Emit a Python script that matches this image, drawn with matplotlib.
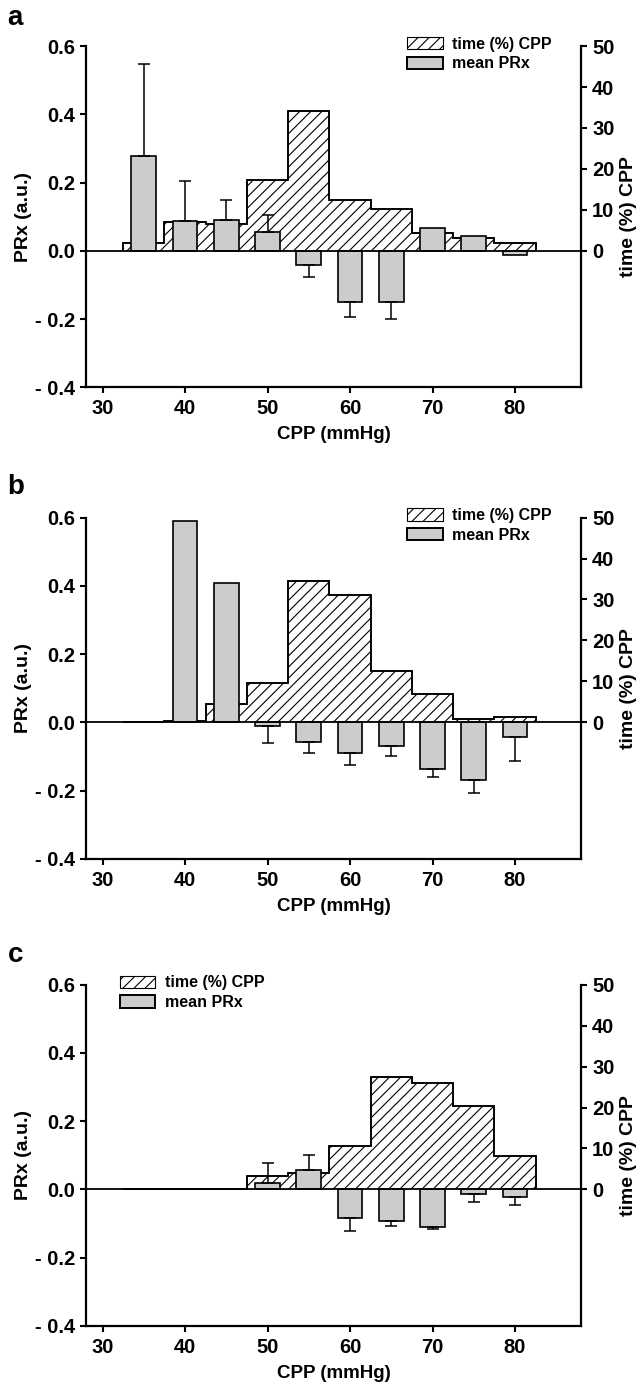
import numpy as np
import matplotlib
matplotlib.use("Agg")
import matplotlib.pyplot as plt
from matplotlib.patches import Patch

plt.rcParams['font.family'] = ['Liberation Sans', 'DejaVu Sans']
plt.rcParams['font.weight'] = 'bold'
plt.rcParams['axes.labelweight'] = 'bold'
plt.rcParams['hatch.linewidth'] = 0.8

# CPP bins (mmHg), 5 mmHg wide
cpp = np.array([35, 40, 45, 50, 55, 60, 65, 70, 75, 80])
edges = np.arange(32.5, 83, 5)

# panel a
time_a = [2.0, 7.1, 6.6, 17.4, 34.1, 12.5, 10.1, 4.3, 3.1, 2.0]
prx_a = [0.278, 0.087, 0.090, 0.054, -0.043, -0.149, -0.149, 0.067, 0.042, -0.012]
err_a = [0.270, 0.118, 0.058, 0.050, 0.035, 0.044, 0.050, np.nan, np.nan, np.nan]

# panel b
time_b = [0.0, 0.3, 4.5, 9.7, 34.6, 31.2, 12.5, 6.8, 0.7, 1.3]
prx_b = [np.nan, 0.590, 0.408, -0.011, -0.058, -0.090, -0.069, -0.138, -0.170, -0.044]
err_b = [np.nan, np.nan, np.nan, 0.051, 0.033, 0.034, 0.029, 0.021, 0.036, 0.070]

# panel c
time_c = [0.0, 0.0, 0.0, 3.2, 4.1, 10.6, 27.5, 26.0, 20.4, 8.2]
prx_c = [np.nan, np.nan, np.nan, 0.018, 0.057, -0.085, -0.092, -0.111, -0.012, -0.022]
err_c = [np.nan, np.nan, np.nan, 0.058, 0.043, 0.036, 0.014, 0.006, 0.026, 0.023]

panels = [
    ("a", time_a, prx_a, err_a, 0.7202, dict(loc='upper right', bbox_to_anchor=(0.97, 1.07))),
    ("b", time_b, prx_b, err_b, 0.3795, dict(loc='upper right', bbox_to_anchor=(0.97, 1.07))),
    ("c", time_c, prx_c, err_c, 0.0420, dict(loc='upper left', bbox_to_anchor=(0.04, 1.07))),
]
letter_y = [18, 487, 955]

fig = plt.figure(figsize=(6.41, 13.84), dpi=100)
gray = '#cccccc'

for (name, tm, prx, err, bottom, legkw), ly in zip(panels, letter_y):
    ax = fig.add_axes([0.1342, bottom, 0.7722, 0.2465])
    ax2 = ax.twinx()
    ax.set_zorder(ax2.get_zorder() + 1)
    ax.patch.set_visible(False)

    ax2.stairs(tm, edges, fill=True, facecolor='white', edgecolor='black',
               hatch='///', linewidth=1.1, zorder=1)
    ax2.stairs(tm, edges, fill=False, edgecolor='black', linewidth=1.2, zorder=2)

    prx = np.array(prx, dtype=float)
    err = np.array(err, dtype=float)
    ax.bar(cpp, prx, width=3, color=gray, edgecolor='black', linewidth=1.2, zorder=3)
    up = np.where(prx > 0, err, 0)
    lo = np.where(prx < 0, err, 0)
    m = ~np.isnan(err)
    ax.errorbar(cpp[m], prx[m], yerr=[lo[m], up[m]], fmt='none', ecolor='black',
                elinewidth=1.1, capsize=4, capthick=1.1, zorder=4)
    ax.axhline(0, color='black', linewidth=1.3, zorder=5)

    ax.set_xlim(28, 88)
    ax.set_ylim(-0.4, 0.6)
    ax2.set_ylim(-100 / 3, 50)
    ax.set_xticks([30, 40, 50, 60, 70, 80])
    ax.set_yticks([-0.4, -0.2, 0.0, 0.2, 0.4, 0.6])
    ax.set_yticklabels(["- 0.4", "- 0.2", "0.0", "0.2", "0.4", "0.6"])
    ax2.set_yticks([0, 10, 20, 30, 40, 50])

    for s in ['top', 'right']:
        ax.spines[s].set_visible(False)
    for s in ['top', 'left', 'bottom']:
        ax2.spines[s].set_visible(False)
    for s in ['left', 'bottom']:
        ax.spines[s].set_linewidth(1.6)
    ax2.spines['right'].set_linewidth(1.6)
    ax.tick_params(axis='both', direction='out', length=4.5, width=1.5, labelsize=14.5)
    ax.tick_params(axis='x', pad=4)
    ax2.tick_params(axis='y', direction='out', length=4.5, width=1.5, labelsize=14.5)

    ax.set_xlabel("CPP (mmHg)", fontsize=13.5, labelpad=6)
    ax.set_ylabel("PRx (a.u.)", fontsize=14, labelpad=2)
    ax2.set_ylabel("time (%) CPP", fontsize=14, labelpad=4)

    handles = [Patch(facecolor='white', edgecolor='black', hatch='///', linewidth=0.8),
               Patch(facecolor=gray, edgecolor='black', linewidth=1.4)]
    ax.legend(handles, ["time (%) CPP", "mean PRx"], frameon=False, fontsize=11.5,
              handlelength=2.2, handleheight=0.8, labelspacing=0.3, handletextpad=0.6,
              **legkw)

    fig.text(0.012, 1 - ly / 1384, name, fontsize=20, fontweight='bold', va='center')

fig.savefig("out.png", dpi=100)
